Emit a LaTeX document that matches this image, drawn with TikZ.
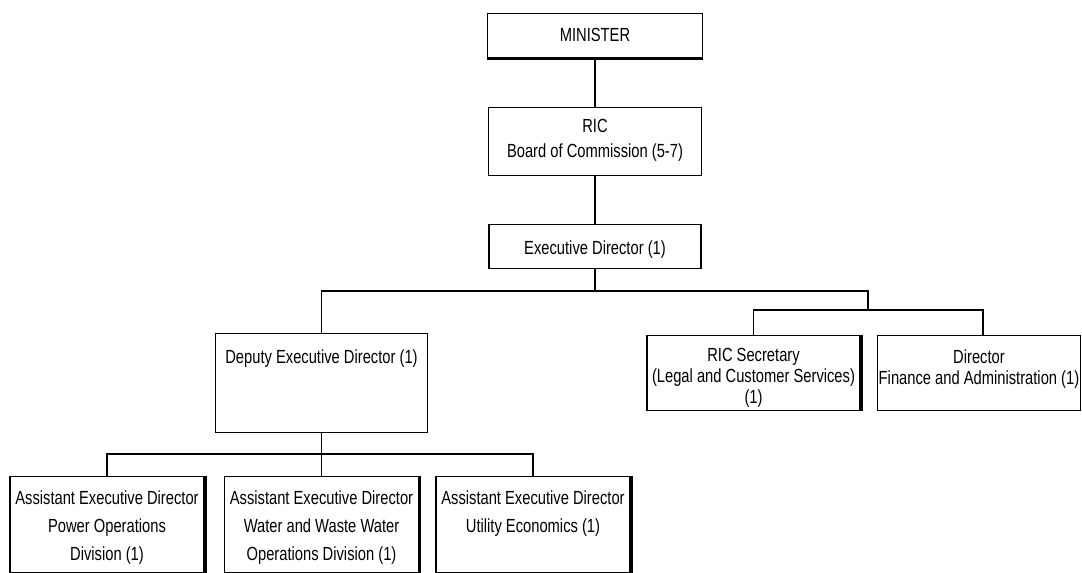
\documentclass[tikz,border=0pt]{standalone}
\usepackage{fontspec}
\setmainfont{Liberation Sans}[FakeStretch=0.775]
\usepackage{tikz}
\usetikzlibrary{calc}
\newcommand\orgfont[1]{\fontsize{19}{#1}\selectfont}
\tikzset{
  post/.style={draw, line width=1.1pt, align=center, inner sep=0pt, anchor=north, font=\orgfont{21}},
  link/.style={line width=1.2pt},
  rim/.style={line width=2.6pt},
}

\begin{document}
\begin{tikzpicture}[x=1pt, y=-1pt]
  \useasboundingbox (0,0) rectangle (1082,573);
  \clip (0,0) rectangle (1082,573);

  % Top of the chain.
  \node[post, minimum width=215, text height=28, text depth=16] (min) at (595,13) {MINISTER};
  \node[post, minimum width=213, text height=50, text depth=18, font=\orgfont{25}] (ric) at (595,107)
    {RIC\\Board of Commission (5-7)};
  \node[post, minimum width=212, text height=30, text depth=14] (exec) at (595,224) {Executive Director (1)};

  % Second level.
  \node[post, minimum width=212, text height=30, text depth=69] (dep) at (321.5,333) {Deputy Executive Director (1)};
  \node[post, minimum width=213, text height=68, text depth=7] (sec) at (753.5,335)
    {RIC Secretary\\(Legal and Customer Services)\\(1)};
  \node[post, minimum width=203, text height=49, text depth=26] (dir) at (979,335)
    {Director\\Finance and Administration (1)};

  % Divisions under the deputy.
  \node[post, minimum width=194, text height=84, text depth=12, font=\orgfont{28}] (ae1) at (107,476)
    {Assistant Executive Director\\Power Operations\\Division (1)};
  \node[post, minimum width=194, text height=84, text depth=12, font=\orgfont{28}] (ae2) at (321.5,476)
    {Assistant Executive Director\\Water and Waste Water\\Operations Division (1)};
  \node[post, minimum width=194, text height=56, text depth=40, font=\orgfont{28}] (ae3) at (533,476)
    {Assistant Executive Director\\Utility Economics (1)};

  % Heavy edges where the boxes cast a shadow.
  \draw[rim] ([yshift=-1pt]min.south west) -- ([yshift=-1pt]min.south east);
  \foreach \n in {sec,ae1,ae2,ae3}
    \draw[rim] ([xshift=1pt]\n.north east) -- ([xshift=1pt]\n.south east);

  % Lines of report.
  \coordinate (bus) at (0,291);
  \coordinate (fork) at (868,310);
  \coordinate (lbus) at (0,454);
  \draw[link] (min.south) -- (ric.north);
  \draw[link] (ric.south) -- (exec.north);
  \draw[link] (exec.south) |- (dep.north |- bus) -- (dep.north);
  \draw[link] (exec.south |- bus) -| (fork);
  \draw[link] (sec.north) |- (fork) -| ([xshift=4pt]dir.north);
  \draw[link] (dep.south) -- (ae2.north);
  \draw[link] (ae1.north) |- (lbus -| ae3.north) -- (ae3.north);
\end{tikzpicture}
\end{document}
